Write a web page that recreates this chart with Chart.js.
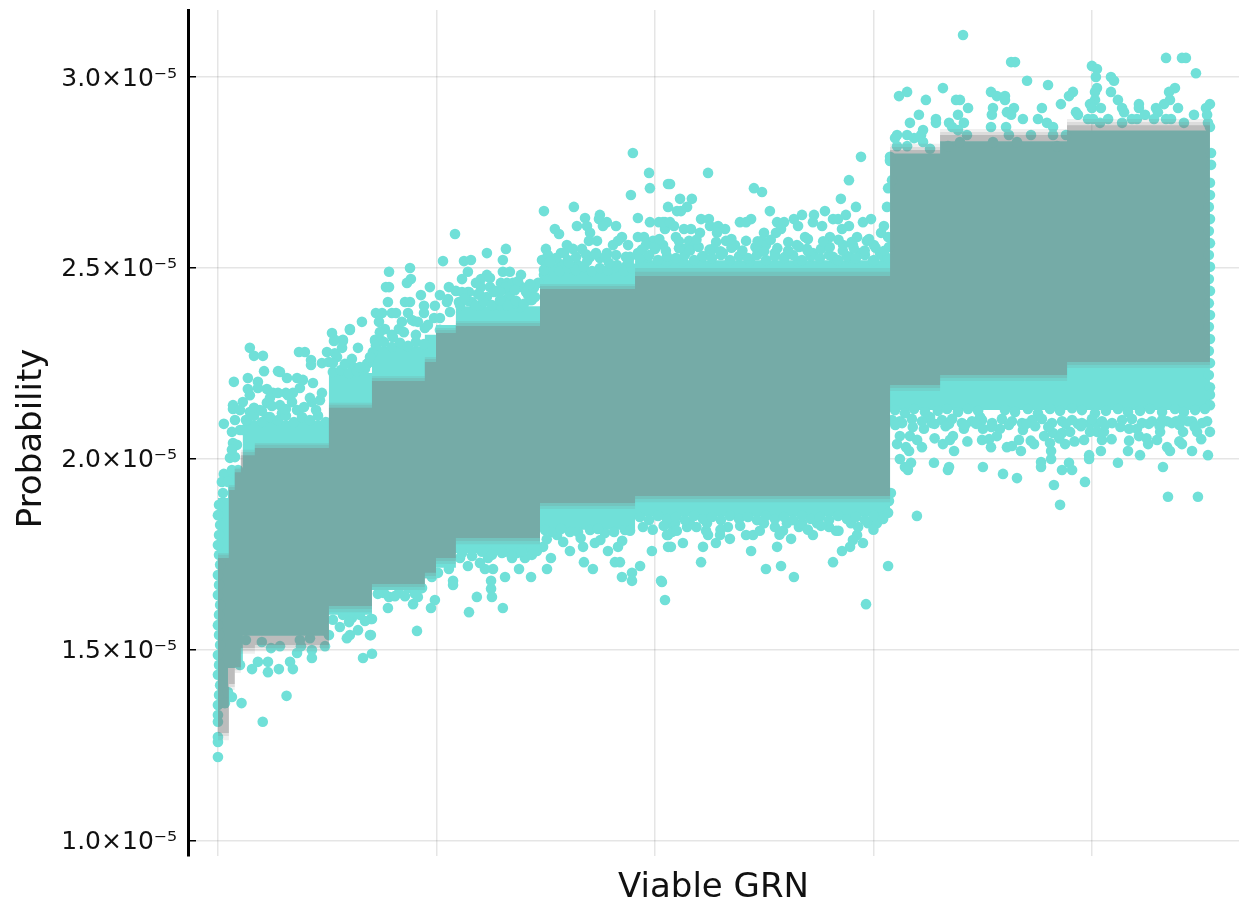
<!DOCTYPE html>
<html>
<head>
<meta charset="utf-8">
<title>Viable GRN</title>
<script src="https://cdn.jsdelivr.net/npm/chart.js@4/dist/chart.umd.min.js"></script>
<style>
  html, body { margin: 0; padding: 0; background: #fff; }
  canvas { display: block; }
</style>
</head>
<body>
<canvas id="grafico" width="1239" height="902"></canvas>
<script>
// axis ticks, y values are in units of 1e-5
const xTicks = [0, 1000, 2000, 3000, 4000]
const yTicks = [1, 1.5, 2, 2.5, 3]
const yTickLabels = ['1.0×10⁻⁵', '1.5×10⁻⁵', '2.0×10⁻⁵', '2.5×10⁻⁵', '3.0×10⁻⁵']

// grey ribbon, core and two soft edges
const ribbonX = [0, 50, 77, 105, 169, 508, 705, 947, 998, 1089, 1474, 1909, 3076, 3305, 3886, 4540]
const ribbonTop = [1.741, 1.919, 1.965, 2.010, 2.029, 2.134, 2.204, 2.254, 2.330, 2.348, 2.445, 2.479, 2.809, 2.848, 2.874, 2.874]
const ribbonBottom = [1.283, 1.411, 1.455, 1.505, 1.513, 1.615, 1.673, 1.702, 1.741, 1.793, 1.885, 1.903, 2.194, 2.220, 2.254, 2.254]
const ribbonMidTop = [1.749, 1.927, 1.973, 2.018, 2.037, 2.142, 2.212, 2.262, 2.338, 2.356, 2.453, 2.490, 2.817, 2.856, 2.882, 2.882]
const ribbonMidBottom = [1.275, 1.403, 1.447, 1.497, 1.505, 1.607, 1.665, 1.694, 1.733, 1.785, 1.877, 1.895, 2.186, 2.212, 2.246, 2.246]
const ribbonSoftTop = [1.754, 1.932, 1.978, 2.024, 2.042, 2.147, 2.217, 2.267, 2.343, 2.361, 2.458, 2.500, 2.825, 2.864, 2.890, 2.890]
const ribbonSoftBottom = [1.264, 1.395, 1.440, 1.490, 1.497, 1.599, 1.657, 1.686, 1.725, 1.777, 1.869, 1.887, 2.178, 2.204, 2.238, 2.238]

// where the points are so dense they merge
const cloudX = [0, 46, 114, 508, 705, 947, 998, 1089, 1474, 1909, 3076, 3305, 3886, 4540]
const cloudTop = [1.898, 1.971, 2.100, 2.225, 2.295, 2.325, 2.351, 2.400, 2.492, 2.520, 2.800, 2.832, 2.860, 2.860]
const cloudBottom = [1.348, 1.453, 1.537, 1.592, 1.657, 1.688, 1.715, 1.754, 1.815, 1.850, 2.128, 2.128, 2.128, 2.128]

// single points [GRN, probability]
const pointsFirstColumn = [[0,1.220],[0,1.259],[0,1.272],[0,1.312],[0,1.330],[5,1.880],[0,1.853],[10,1.827],[5,1.801],[0,1.775],[5,1.749],[10,1.723],[0,1.696],[5,1.670],[0,1.644],[10,1.618],[5,1.592],[0,1.565],[5,1.539],[10,1.513],[0,1.487],[5,1.461],[0,1.435],[10,1.408],[5,1.382],[0,1.356],
  [108,1.361],[205,1.312],[314,1.380],[64,1.377],[46,1.390],[32,1.361],[101,1.461]]

const pointsTopLeft = [[146,2.291],[165,2.270],[206,2.270],[371,2.280],[398,2.280],[522,2.330],[604,2.338],[641,2.291],[535,2.312],[572,2.312],[499,2.280],[426,2.259],[476,2.251],[426,2.246],[73,2.202],[137,2.212],[211,2.230],[183,2.202],[275,2.230],[284,2.228],[316,2.212],[362,2.212],[224,2.183],[137,2.183],[252,2.173],[311,2.173],[343,2.173],[389,2.207],[618,2.241],[687,2.251],[719,2.312],[709,2.280],[508,2.254],[535,2.277],[69,2.141],[69,2.131],[114,2.149],[224,2.147],[284,2.141],[339,2.149],[27,2.092],[64,2.071],[101,2.076],[69,2.042],[87,2.037],[55,2.003],[78,2.005],[27,1.961],[18,1.940],[46,1.940],[23,1.911],[146,2.123],[192,2.128],[224,2.110],[293,2.120],[362,2.128],[430,2.149],[467,2.154],[435,2.199],[133,2.102],[114,2.076],
  [1030,2.518],[1126,2.518],[1144,2.490],[879,2.500],[783,2.490],[883,2.471],[865,2.461],[769,2.450],[783,2.450],[970,2.450],[1057,2.450],[1089,2.440],[929,2.429],[778,2.411],[856,2.411],[879,2.411],[943,2.401],[1016,2.429],[1048,2.411],[1103,2.411],[1144,2.437],[993,2.401],[723,2.382],[751,2.382],[796,2.382],[815,2.382],[870,2.382],[943,2.382],[659,2.359],[604,2.340],[737,2.359],[989,2.369],[897,2.361],[764,2.340],[828,2.340],[572,2.309],[531,2.309],[719,2.309],[751,2.309],[568,2.291],[682,2.249],[545,2.267],[888,2.364],[947,2.343],[801,2.319],[1016,2.338]]

const pointsTopMiddle = [[1899,2.801],[1973,2.749],[1977,2.709],[1890,2.691],[2060,2.720],[2060,2.660],[1629,2.660],[1492,2.649],[1680,2.631],[1748,2.639],[1744,2.628],[1780,2.620],[1643,2.610],[1689,2.610],[1762,2.610],[1822,2.610],[1922,2.631],[1977,2.620],[2018,2.620],[2046,2.620],[1542,2.602],[1561,2.589],[1703,2.592],[2046,2.602],[1085,2.589],[1922,2.581],[1950,2.581],[1849,2.581],[1698,2.571],[1735,2.571],[1991,2.571],[1831,2.571],[1808,2.560],[1877,2.560],[1959,2.560],[1597,2.560],[1501,2.550],[1231,2.539],[1318,2.550],[1570,2.539],[1625,2.550],[1666,2.550],[2000,2.550],[2037,2.560],[1780,2.539],[1922,2.539],[1886,2.529],[1158,2.521],[1304,2.521],[1483,2.521],[1602,2.521],[1703,2.529],[1748,2.526],[1968,2.529],[1304,2.490],[1336,2.490],[1501,2.508],[1570,2.510],[1648,2.508],[1826,2.508],[1872,2.508],[1387,2.482],[1231,2.482],[1492,2.482],[1465,2.461],[1295,2.461],[1323,2.461],[1350,2.461],[1204,2.471],[1391,2.450],[1204,2.450],[1245,2.450],[1268,2.440],[1149,2.437],[1419,2.429],[1327,2.421],[1163,2.411],[1231,2.424],[1382,2.398],[1428,2.416],[1053,2.419],[1199,2.403],[1291,2.403],[1359,2.408]]

const pointsTopRightOfMiddle = [[2243,2.749],[2069,2.720],[2453,2.709],[2490,2.699],[2943,2.791],[2888,2.730],[2115,2.681],[2169,2.681],[2851,2.681],[2147,2.660],[2101,2.649],[2119,2.649],[2526,2.649],[2920,2.660],[2778,2.649],[2673,2.639],[2728,2.639],[2874,2.639],[2211,2.628],[2247,2.628],[2440,2.628],[2636,2.628],[2815,2.628],[2838,2.628],[2989,2.628],[2037,2.620],[2069,2.620],[2389,2.620],[2417,2.620],[2559,2.620],[2591,2.620],[2723,2.620],[2952,2.620],[2252,2.610],[2289,2.610],[2655,2.610],[2765,2.610],[2888,2.610],[2087,2.610],[2133,2.602],[2165,2.602],[2321,2.602],[2577,2.602],[2856,2.602],[2206,2.592],[2284,2.592],[2499,2.592],[2554,2.592],[3035,2.592],[2096,2.581],[2925,2.581],[2687,2.581],[2801,2.581],[2417,2.571],[2325,2.571],[2156,2.571],[2490,2.571],[2970,2.571],[2183,2.560],[2366,2.560],[2650,2.560],[2787,2.560],[2861,2.560],[3002,2.560],[2137,2.550],[2266,2.550],[2467,2.550],[2508,2.560],[2696,2.550],[2906,2.560],[2938,2.539],[3030,2.539],[2215,2.529],[2311,2.539],[2549,2.539],[2595,2.529],[2723,2.539],[2815,2.529],[2893,2.529],[2055,2.518],[2128,2.518],[2435,2.518],[2655,2.518],[2998,2.518],
  [3076,2.783],[3067,2.709],[3085,2.730],[3062,2.660],[3048,2.610],[3067,2.581],[3071,2.555]]

const pointsTopRight = [[3410,3.110],[3630,3.039],[3648,3.039],[4339,3.050],[4412,3.050],[4430,3.050],[4476,3.010],[4000,3.029],[4023,3.021],[4018,3.000],[3703,2.990],[3799,2.979],[4087,3.000],[4101,2.990],[3318,2.971],[3154,2.961],[3117,2.950],[3538,2.961],[3565,2.950],[3602,2.950],[3602,2.940],[3240,2.940],[3378,2.940],[3396,2.940],[3913,2.961],[3895,2.950],[4023,2.971],[4014,2.961],[4087,2.961],[4380,2.971],[4353,2.961],[4119,2.940],[4357,2.940],[4014,2.940],[3991,2.929],[3858,2.929],[4215,2.929],[4330,2.929],[4540,2.929],[4522,2.919],[3433,2.919],[3547,2.919],[3643,2.919],[3771,2.919],[4000,2.919],[4041,2.919],[4138,2.919],[4215,2.919],[4293,2.919],[4394,2.919],[3611,2.908],[4147,2.908],[4302,2.908],[3208,2.901],[3387,2.901],[3542,2.901],[3630,2.901],[3927,2.908],[3936,2.901],[4467,2.901],[4527,2.901],[3684,2.890],[3753,2.890],[3982,2.890],[4005,2.890],[4074,2.890],[4183,2.890],[4206,2.890],[4243,2.901],[4284,2.890],[4339,2.890],[4362,2.890],[3167,2.880],[3286,2.890],[3286,2.880],[3414,2.880],[3794,2.880],[4138,2.880],[4421,2.880],[4531,2.880],[3346,2.880],[3538,2.869],[3607,2.869],[3822,2.869],[4037,2.880],[3360,2.869],[3227,2.861],[3387,2.861],[4540,2.869],[3108,2.848],[3154,2.848],[3218,2.848],[3620,2.848],[3721,2.848],[3822,2.848],[3881,2.848],[3428,2.848],[3099,2.840],[3186,2.840],[3227,2.830],[3396,2.830],[3547,2.830],[3657,2.830],[3108,2.819],[3154,2.819],[3341,2.819],[3840,2.819],[3259,2.812],[3076,2.791],[3076,2.780]]

const pointsLastColumn = [[4545,2.801],[4545,2.770],[4540,2.723],[4540,2.691],[4535,2.660],[4540,2.628],[4535,2.597],[4540,2.565],[4535,2.534],[4540,2.503],[4535,2.471],[4540,2.440],[4535,2.408],[4540,2.377],[4535,2.346],[4540,2.314],[4535,2.283],[4540,2.251],[4535,2.220],[4540,2.188],[4540,2.168],[4540,2.141]]

const pointsLowLeft = [[156,1.450],[183,1.469],[229,1.469],[229,1.442],[279,1.450],[330,1.469],[343,1.450],[362,1.492],[380,1.510],[430,1.500],[430,1.479],[243,1.505],[284,1.510],[490,1.510],[508,1.539],[558,1.560],[604,1.539],[590,1.531],[641,1.552],[696,1.539],[664,1.479],[705,1.490],[700,1.581],[613,1.584],[572,1.592],[650,1.592]]

const pointsLowMiddle = [[1057,1.712],[1076,1.681],[1076,1.670],[1185,1.639],[1149,1.599],[1304,1.610],[1250,1.681],[1250,1.660],[1254,1.639],[1314,1.691],[1433,1.691],[1378,1.712],[1506,1.712],[1524,1.741],[1611,1.759],[1671,1.770],[1675,1.730],[1716,1.712],[1725,1.780],[1785,1.759],[1831,1.770],[1817,1.730],[1840,1.730],[1849,1.691],[1895,1.702],[1895,1.681],[1932,1.720],[1986,1.759],[2028,1.681],[2046,1.631],[2060,1.770],[2060,1.801],[911,1.550],[778,1.610],[975,1.610],[993,1.631],[893,1.620],[915,1.639],[828,1.649],[783,1.639],[760,1.649],[870,1.662],[934,1.662],[705,1.581],[700,1.539],[1007,1.702],[979,1.691],[1231,1.759],[1236,1.741],[1144,1.720],[1259,1.712],[1222,1.712],[1346,1.741],[1405,1.741],[1369,1.754],[1488,1.770],[1460,1.759],[1314,1.757],[1199,1.728],[1108,1.741],[1552,1.801],[1497,1.814],[1611,1.809],[1703,1.814],[1771,1.806],[1863,1.814],
  [2966,1.620],[3067,1.720],[3199,1.851],[2636,1.691],[2577,1.720],[2508,1.712],[2815,1.730],[2211,1.730],[2032,1.678],[2440,1.759],[2559,1.770],[2220,1.770],[2073,1.770],[2128,1.780],[2279,1.780],[2343,1.791],[2623,1.791],[2723,1.801],[2856,1.759],[2893,1.770],[2952,1.780],[2925,1.801],[2906,1.788],[2417,1.801],[2449,1.801],[2298,1.801],[2243,1.801],[2055,1.801],[2078,1.809],[2334,1.822],[2234,1.812],[2586,1.812],[2549,1.822],[2829,1.812],[2659,1.822],[2673,1.832],[2147,1.822],[2797,1.822],[2897,1.832],[2742,1.832],[2604,1.832],[2499,1.832],[2238,1.832],[2160,1.832],[2060,1.832],[2092,1.832],[2975,1.832],[3016,1.832],[3067,1.859],[3071,1.890],[3080,1.911],[3158,1.971],[3341,1.971],[3044,1.848]]

const pointsLowRight = [[3854,1.880],[3826,1.932],[3968,1.940],[4348,1.901],[4485,1.901],[3657,1.950],[3593,1.961],[3863,1.971],[3909,1.971],[4325,1.979],[4119,1.990],[3895,1.990],[3767,1.979],[3767,1.992],[3501,1.979],[3346,1.979],[3277,1.990],[3172,1.990],[3144,1.979],[3121,2.000],[3813,2.000],[3987,2.000],[3987,2.010],[4220,2.010],[4531,2.010],[4458,2.021],[4357,2.021],[4344,2.031],[4165,2.021],[4041,2.021],[3813,2.021],[3675,2.021],[3369,2.021],[3163,2.021],[3149,2.031],[3538,2.031],[3222,2.031],[3611,2.031],[3634,2.034],[3808,2.042],[3735,2.039],[3877,2.039],[4257,2.039],[4412,2.039],[3318,2.039],[3108,2.039],[3497,2.050],[3964,2.050],[4046,2.050],[4298,2.050],[3666,2.050],[3350,2.050],[3781,2.060],[4215,2.060],[3121,2.060],[3167,2.060],[3364,2.060],[3565,2.060],[3822,2.068],[3863,2.068],[4417,2.071],[4481,2.071],[4540,2.071],[3991,2.071],[4023,2.071],[4055,2.071],[3900,2.071],[3231,2.079],[3414,2.079],[3501,2.079],[4170,2.079],[4206,2.079],[4312,2.071],[3579,2.079],[3684,2.076],[3936,2.092],[3991,2.092],[4023,2.092],[4440,2.099],[4527,2.099],[4344,2.099],[4385,2.099],[3346,2.092],[3488,2.110],[3259,2.110],[3121,2.099],
  [3099,2.128],[3144,2.120],[3186,2.131],[3236,2.123],[3295,2.126],[3337,2.131],[3387,2.123],[3433,2.131],[3479,2.126],[3602,2.128],[3648,2.123],[3707,2.131],[3753,2.120],[3808,2.131],[3854,2.126],[3909,2.133],[3954,2.128],[4014,2.120],[4064,2.126],[4119,2.131],[4165,2.123],[4220,2.126],[4266,2.131],[4321,2.123],[4380,2.131],[4421,2.123],[4472,2.128],[4517,2.131]]

// points along the upper and lower rim of the dense cloud
const pointsUpperRim = [[128,2.102],[165,2.113],[201,2.097],[238,2.110],[275,2.102],[311,2.113],[348,2.097],[385,2.110],[421,2.102],[458,2.113],[494,2.097],
  [526,2.228],[563,2.233],[600,2.225],[636,2.230],[673,2.236],
  [723,2.298],[760,2.306],[796,2.293],[833,2.304],[870,2.296],[906,2.306],[943,2.301],[741,2.332],[796,2.325],[851,2.332],[906,2.325],
  [961,2.351],[1016,2.369],[1062,2.385],
  [1108,2.403],[1144,2.414],[1181,2.401],[1217,2.411],[1254,2.403],[1291,2.416],[1327,2.401],[1364,2.414],[1400,2.406],[1437,2.416],[1117,2.437],[1190,2.432],[1263,2.437],[1336,2.432],[1410,2.437],[1446,2.448],
  [1492,2.495],[1529,2.503],[1565,2.492],[1602,2.500],[1639,2.495],[1675,2.503],[1712,2.492],[1748,2.500],[1785,2.495],[1822,2.503],[1858,2.492],[1895,2.500],
  [1931,2.526],[1973,2.534],[2014,2.521],[2055,2.531],[2096,2.526],[2137,2.534],[2179,2.521],[2220,2.531],[2261,2.526],[2302,2.534],[2343,2.521],[2385,2.531],[2426,2.526],[2467,2.534],[2508,2.521],[2549,2.531],[2591,2.526],[2632,2.534],[2673,2.521],[2714,2.531],[2755,2.526],[2797,2.534],[2838,2.521],[2879,2.531],[2920,2.526],[2961,2.534],[3002,2.521],[3044,2.531],[3066,2.526]]

const pointsLowerRim = [[128,1.526],[201,1.521],[375,1.526],[421,1.531],
  [526,1.579],[600,1.573],[673,1.576],
  [732,1.647],[810,1.641],[856,1.641],[902,1.647],
  [1117,1.754],[1163,1.746],[1208,1.757],[1254,1.749],[1300,1.754],[1345,1.746],[1391,1.757],[1437,1.749],
  [1529,1.809],[1570,1.817],[1648,1.809],[1739,1.817],[1813,1.809],[1886,1.812],
  [1931,1.848],[1973,1.840],[2014,1.851],[2055,1.843],[2096,1.848],[2137,1.840],[2179,1.851],[2220,1.843],[2261,1.848],[2302,1.840],[2343,1.851],[2385,1.843],[2426,1.848],[2467,1.840],[2508,1.851],[2549,1.843],[2591,1.848],[2632,1.840],[2673,1.851],[2714,1.843],[2755,1.848],[2797,1.840],[2838,1.851],[2879,1.843],[2920,1.848],[2961,1.840],[3002,1.851],[3044,1.843],
  [3085,2.102],[3131,2.094],[3176,2.105],[3222,2.099],[3268,2.094],[3314,2.102],[3360,2.105],[3405,2.094],[3451,2.099],[3497,2.102],[3543,2.094],[3588,2.105],[3634,2.099],[3680,2.094],[3726,2.102],[3771,2.105],[3817,2.094],[3863,2.099],[3909,2.102],[3954,2.094],[4000,2.105],[4046,2.099],[4092,2.094],[4138,2.102],[4183,2.105],[4229,2.094],[4275,2.099],[4321,2.102],[4366,2.094],[4412,2.105],[4458,2.099],[4504,2.094]]

// more of the crowded points just outside the rim
const pointsUpperCrowd = [[146,2.167],[183,2.186],[238,2.160],[275,2.173],[320,2.167],[375,2.186],[421,2.160],[476,2.173],
  [165,2.134],[201,2.126],[247,2.139],[311,2.131],[394,2.136],[449,2.128],
  [78,2.102],[101,2.128],[64,2.024],[92,1.971],[64,1.971],
  [526,2.251],[581,2.249],[613,2.262],[650,2.241],[696,2.267],[842,2.359],[915,2.359],
  [1117,2.471],[1181,2.461],[1245,2.474],[1318,2.450],[1373,2.465],[1428,2.458],[1199,2.429],[1291,2.437],[1359,2.442],[1451,2.424],[1130,2.421],
  [1510,2.534],[1547,2.526],[1584,2.539],[1639,2.529],[1684,2.536],[1730,2.539],[1776,2.526],[1822,2.534],[1867,2.529],[1520,2.516],[1606,2.513],[1690,2.518],[1790,2.513],[1880,2.516],
  [1940,2.548],[2000,2.555],[2050,2.545],[2110,2.552],[2160,2.546],[2200,2.555],[2250,2.548],[2300,2.544],[2350,2.553],[2400,2.546],[2460,2.555],[2500,2.544],[2560,2.552],[2610,2.546],[2660,2.555],[2700,2.544],[2760,2.550],[2800,2.555],[2860,2.545],[2910,2.552],[2960,2.546],[3010,2.553],[3050,2.545],
  [2020,2.576],[2110,2.570],[2190,2.574],[2280,2.568],[2350,2.576],[2470,2.570],[2530,2.574],[2610,2.568],[2700,2.576],[2770,2.570],[2840,2.574],[2900,2.568],[2980,2.576]]

const pointsLowerCrowd = [[1945,1.822],[1990,1.815],[2040,1.825],[2100,1.812],[2190,1.822],[2300,1.815],[2390,1.825],[2480,1.812],[2570,1.802],[2700,1.815],[2760,1.825],[2840,1.812],[2930,1.822],[3000,1.815],
  [1505,1.790],[1580,1.783],[1660,1.793],[1750,1.788],[1850,1.786],
  [3100,2.089],[3180,2.084],[3280,2.092],[3330,2.086],[3420,2.089],[3470,2.092],[3540,2.084],[3620,2.089],[3700,2.092],[3740,2.086],[3800,2.084],[3880,2.092],[3950,2.086],[4060,2.089],[4130,2.084],[4260,2.092],[4310,2.086],[4400,2.089],[4470,2.084],
  [3200,2.050],[3280,2.054],[3430,2.046],[3530,2.052],[3720,2.048],[3850,2.054],[3920,2.046],[4090,2.052],[4170,2.048],[4250,2.054],[4400,2.046],[4500,2.052]]

const allPoints = [pointsFirstColumn, pointsTopLeft, pointsTopMiddle, pointsTopRightOfMiddle, pointsTopRight,
  pointsLastColumn, pointsLowLeft, pointsLowMiddle, pointsLowRight, pointsUpperRim, pointsLowerRim,
  pointsUpperCrowd, pointsLowerCrowd].flat()

const turquoise = '#70e0d8'
const fontFamily = '"DejaVu Sans"'

Chart.defaults.font.family = fontFamily
Chart.defaults.color = '#111'

const toXY = (xs, ys) => xs.map((x, i) => ({ x, y: ys[i] }))

// edge line of a band, the one with fill paints down to the next dataset
const edge = (xs, ys, fill, color, order) => ({
    type: 'line',
    data: toXY(xs, ys),
    stepped: true,
    fill,
    backgroundColor: color,
    borderWidth: 0,
    pointRadius: 0,
    order
})

const data = {
    datasets: [
        edge(cloudX, cloudTop, '+1', turquoise, 5),
        edge(cloudX, cloudBottom, false, turquoise, 5),
        {
            type: 'scatter',
            data: allPoints.map(p => ({ x: p[0], y: p[1] })),
            backgroundColor: turquoise,
            pointRadius: 5.3,
            borderWidth: 0,
            order: 4
        },
        edge(ribbonX, ribbonSoftTop, '+1', 'rgba(122,122,122,0.12)', 3),
        edge(ribbonX, ribbonSoftBottom, false, 'rgba(122,122,122,0.12)', 3),
        edge(ribbonX, ribbonMidTop, '+1', 'rgba(122,122,122,0.17)', 2),
        edge(ribbonX, ribbonMidBottom, false, 'rgba(122,122,122,0.17)', 2),
        edge(ribbonX, ribbonTop, '+1', 'rgba(122,122,122,0.33)', 1),
        edge(ribbonX, ribbonBottom, false, 'rgba(122,122,122,0.33)', 1)
    ]
}

const config = {
    type: 'scatter',
    data,
    options: {
        responsive: false,
        animation: false,
        events: [],
        layout: { autoPadding: false, padding: { top: 10, left: 0, right: 0, bottom: 0 } },
        plugins: { legend: { display: false }, tooltip: { enabled: false } },
        scales: {
            x: {
                type: 'linear',
                min: -137,
                max: 4673,
                afterBuildTicks: scale => { scale.ticks = xTicks.map(value => ({ value })) },
                afterFit: scale => {
                    scale.height = 46
                    scale.paddingLeft = 0
                    scale.paddingRight = 0
                },
                ticks: { display: false },
                border: { display: false },
                grid: { color: 'rgba(0,0,0,0.1)', lineWidth: 1.5, drawTicks: false },
                title: {
                    display: true,
                    text: 'Viable GRN',
                    color: '#111',
                    font: { size: 34, lineHeight: 0.82 },
                    padding: { top: 0, bottom: 0 }
                }
            },
            y: {
                type: 'linear',
                min: 0.9607,
                max: 3.1754,
                afterBuildTicks: scale => { scale.ticks = yTicks.map(value => ({ value })) },
                afterFit: scale => {
                    scale.width = 188
                    scale.paddingTop = 0
                    scale.paddingBottom = 0
                },
                ticks: {
                    color: '#111',
                    font: { size: 25 },
                    padding: 19,
                    labelOffset: 2,
                    callback: value => yTickLabels[yTicks.indexOf(value)]
                },
                border: { color: '#000', width: 3 },
                grid: { color: 'rgba(0,0,0,0.1)', lineWidth: 1.5, tickLength: -8, tickColor: '#000', tickWidth: 1.5 },
                title: {
                    display: true,
                    text: 'Probability ',
                    color: '#111',
                    font: { size: 34, lineHeight: 1 },
                    padding: { top: 15, bottom: 0 }
                }
            }
        }
    }
}

const graph = new Chart(document.getElementById('grafico'), config)
</script>
</body>
</html>
